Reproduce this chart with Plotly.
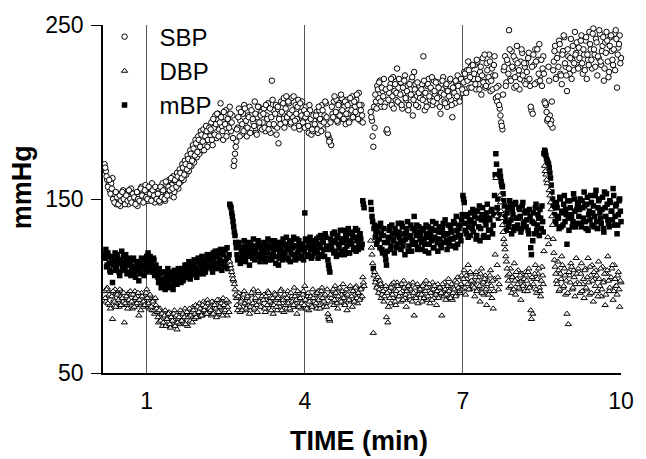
import plotly.graph_objects as go

# Beat readings, two interleaved sets: set A every 0.025 min from 0.2 min,
# set B every 0.025 min from 0.2125 min.
T_START_A = 0.2
T_START_B = 0.2125
T_STEP = 0.025

SBP_A = [
    170, 166, 161, 158, 155, 159, 162, 152, 149, 147, 153, 150, 146, 151, 155, 148, 150, 153, 147, 151,
    156, 149, 148, 153, 150, 146, 152, 155, 157, 149, 153, 158, 154, 149, 151, 156, 159, 151, 148, 154,
    150, 156, 148, 154, 159, 151, 149, 158, 153, 161, 152, 158, 163, 154, 160, 165, 156, 167, 160, 170,
    161, 172, 164, 175, 166, 178, 169, 181, 171, 184, 174, 186, 176, 189, 178, 190, 181, 192, 180, 188,
    186, 194, 181, 191, 198, 185, 199, 190, 205, 192, 184, 197, 201, 188, 195, 203, 189, 198, 169, 176,
    183, 191, 202, 195, 187, 199, 204, 192, 186, 198, 203, 190, 199, 194, 206, 188, 197, 203, 191, 200,
    194, 202, 189, 198, 205, 193, 188, 218, 201, 192, 204, 191, 182, 199, 206, 196, 208, 194, 209, 198,
    205, 193, 208, 197, 191, 204, 196, 207, 190, 200, 206, 195, 191, 203, 194, 188, 201, 187, 189, 195,
    192, 200, 188, 201, 195, 204, 190, 198, 205, 193, 186, 184, 181, 199, 206, 196, 207, 194, 205, 200,
    208, 196, 203, 193, 207, 199, 195, 205, 209, 197, 203, 207, 199, 211, 195, 204, 194, None, None, None,
    None, None, 200, 195, 180, 191, 206, 215, 208, 218, 203, 212, 219, 205, 189, 188, 211, 216, 204, 220,
    212, 207, 225, 214, 205, 217, 202, 211, 221, 207, 215, 204, 213, 218, 198, 223, 216, 209, 203, 215,
    209, 216, 232, 201, 206, 215, 219, 207, 213, 204, 218, 210, 205, 217, 209, 199, 213, 220, 206, 215,
    203, 212, 218, 207, 197, 214, 205, 217, 221, 208, 215, 219, 211, 223, 213, 224, 229, 214, 226, 219,
    219, 227, 213, 229, 216, 223, 210, 231, 220, 214, 228, 217, 233, 212, 225, 221, 232, 208, 206, 215,
    202, 194, 190, 224, 232, 217, 228, 247, 219, 235, 225, 214, 230, 238, 221, 213, 229, 234, 218, 226,
    228, 218, 234, 215, 201, 199, 227, 236, 217, 230, 239, 221, 215, 232, 206, 204, 195, 226, 198, 195,
    191, 229, 238, 220, 233, 241, 222, 216, 235, 243, 226, 212, 232, 222, 242, 230, 224, 246, 234, 227,
    237, 226, 244, 222, 233, 241, 219, 230, 246, 236, 225, 248, 233, 242, 221, 231, 245, 227, 238, 218,
    240, 246, 229, 223, 243, 235, 227, 245, 247, 214, 237, 244, 231,
]

SBP_B = [
    168, 163, 157, 161, 153, 156, 150, 148, 154, 151, 147, 152, 149, 154, 150, 147, 152, 149, 155, 150,
    148, 153, 151, 147, 154, 150, 149, 156, 152, 148, 155, 151, 150, 157, 153, 149, 155, 152, 157, 150,
    153, 149, 157, 151, 155, 150, 160, 152, 157, 155, 162, 156, 151, 161, 157, 163, 159, 165, 162, 168,
    164, 170, 167, 173, 169, 176, 172, 179, 175, 182, 177, 184, 180, 187, 183, 178, 186, 189, 184, 191,
    190, 184, 196, 187, 193, 199, 186, 194, 197, 189, 200, 193, 186, 196, 191, 199, 194, 185, 172, 180,
    190, 197, 186, 200, 193, 189, 202, 195, 191, 197, 188, 201, 196, 192, 199, 187, 203, 194, 198, 190,
    199, 191, 204, 196, 190, 202, 197, 207, 193, 199, 187, 203, 196, 193, 200, 205, 191, 202, 197, 206,
    199, 194, 201, 209, 195, 199, 203, 192, 205, 198, 194, 201, 197, 199, 192, 204, 196, 190, 198, 193,
    198, 190, 203, 196, 189, 201, 194, 206, 197, 187, 183, 194, 203, 197, 209, 200, 195, 204, 198, 210,
    201, 196, 206, 199, 204, 194, 208, 201, 197, 206, 200, 210, 196, 204, 201, 198, None, None, None, None,
    None, None, 197, 186, 203, 210, 202, 213, 217, 206, 214, 209, 203, 213, 190, 207, 214, 219, 209, 202,
    216, 211, 206, 219, 210, 204, 214, 218, 208, 212, 201, 216, 210, 220, 207, 213, 204, 217, 211, 208,
    213, 207, 218, 211, 203, 216, 209, 214, 220, 206, 212, 217, 208, 214, 203, 211, 218, 210, 205, 216,
    212, 209, 219, 204, 214, 211, 218, 209, 215, 206, 219, 213, 217, 222, 211, 218, 224, 220, 214, 227,
    222, 216, 230, 219, 213, 226, 221, 217, 233, 215, 224, 220, 229, 218, 213, 227, 221, 214, 209, 204,
    198, 192, 210, 226, 215, 230, 222, 236, 218, 226, 232, 220, 215, 228, 224, 219, 236, 221, 228, 216,
    223, 231, 219, 203, 226, 233, 216, 229, 236, 222, 218, 230, 225, 222, 205, 200, 196, 218, 193, 206,
    224, 235, 219, 231, 226, 239, 221, 233, 244, 228, 221, 236, 225, 231, 219, 238, 228, 233, 240, 225,
    231, 241, 228, 236, 224, 243, 233, 227, 239, 230, 245, 236, 226, 240, 232, 247, 229, 235, 243, 225,
    234, 241, 220, 238, 244, 230, 236, 224, 242, 233, 239, 228,
]

DBP_A = [
    97, 91, 99, 94, 89, 96, 81, 92, 98, 90, 96, 88, 94, 97, 91, 79, 93, 89, 96, 90,
    95, 87, 92, 97, 89, 94, 83, 90, 96, 88, 92, 95, 98, 89, 87, 94, 86, 92, 84, 89,
    85, 79, 87, 81, 77, 84, 86, 78, 82, 85, 76, 83, 79, 86, 82, 75, 81, 78, 85, 81,
    79, 87, 83, 77, 86, 80, 85, 88, 81, 89, 84, 82, 90, 85, 83, 91, 86, 84, 92, 85,
    88, 83, 91, 85, 90, 82, 89, 92, 84, 87, 93, 85, 90, 83, 91, 114, 110, 106, 103, 98,
    93, 86, 96, 85, 92, 88, 97, 86, 93, 89, 84, 95, 88, 98, 86, 92, 85, 96, 89, 93,
    88, 95, 85, 92, 97, 87, 93, 90, 84, 96, 92, 86, 94, 88, 98, 90, 85, 93, 87, 97,
    92, 86, 94, 88, 99, 90, 84, 93, 96, 87, 91, 97, 100, 88, 94, 86, 93, 89, 98, 91,
    93, 87, 97, 89, 95, 99, 88, 94, 90, 98, 82, 80, 93, 97, 89, 100, 94, 87, 98, 92,
    95, 101, 90, 96, 86, 94, 99, 91, 88, 97, 95, 100, 90, 96, 93, 99, 105, 100, None, None,
    None, None, 126, 118, 73, 108, 104, 100, 96, 103, 93, 100, 91, 98, 82, 79, 97, 90, 101, 93,
    98, 89, 102, 94, 100, 91, 97, 103, 93, 88, 98, 101, 92, 97, 102, 83, 94, 100, 90, 97,
    98, 91, 101, 94, 103, 92, 99, 90, 96, 102, 93, 98, 89, 101, 95, 99, 83, 97, 102, 92,
    98, 104, 94, 100, 92, 99, 103, 95, 105, 98, 96, 106, 100, 109, 95, 104, 112, 98, 107, 101,
    102, 94, 108, 98, 105, 91, 110, 99, 95, 106, 89, 103, 97, 109, 93, 87, 104, 162, 112, 98,
    152, 143, 135, 127, 121, 114, 106, 99, 110, 96, 105, 113, 95, 104, 109, 98, 92, 107, 101, 97,
    106, 97, 110, 100, 81, 84, 104, 112, 96, 107, 99, 94, 111, 101, 169, 164, 159, 124, 152, 144,
    135, 119, 111, 103, 114, 97, 107, 117, 99, 110, 95, 84, 78, 106, 113, 98, 109, 94, 116, 102,
    108, 96, 113, 101, 93, 110, 98, 116, 95, 106, 112, 91, 104, 109, 97, 114, 100, 94, 111, 103,
    89, 107, 117, 97, 104, 110, 92, 112, 100, 95, 108, 88, 102,
]

DBP_B = [
    93, 98, 90, 95, 87, 94, 97, 91, 88, 95, 92, 98, 89, 93, 96, 90, 94, 87, 92, 97,
    91, 95, 88, 93, 90, 96, 92, 86, 94, 91, 89, 96, 93, 90, 95, 88, 91, 86, 93, 87,
    82, 86, 80, 84, 79, 83, 77, 81, 84, 78, 82, 80, 84, 77, 83, 79, 82, 86, 80, 84,
    82, 78, 85, 82, 87, 83, 79, 86, 84, 82, 88, 85, 87, 83, 89, 86, 88, 84, 90, 87,
    86, 91, 84, 89, 87, 92, 85, 88, 90, 83, 89, 86, 92, 88, 85, 112, 108, 104, 101, 95,
    89, 94, 88, 91, 86, 95, 90, 87, 94, 91, 88, 96, 90, 87, 93, 89, 97, 91, 88, 94,
    92, 87, 94, 89, 96, 91, 86, 93, 89, 95, 88, 93, 90, 97, 86, 92, 95, 89, 93, 90,
    87, 96, 91, 89, 94, 92, 97, 88, 93, 90, 95, 89, 92, 87, 96, 91, 94, 88, 93, 95,
    90, 96, 92, 87, 97, 93, 91, 95, 88, 84, 81, 95, 91, 98, 92, 96, 90, 94, 99, 91,
    97, 93, 89, 98, 95, 92, 100, 94, 97, 91, 99, 93, 96, 92, 98, 94, 102, None, None, None,
    None, None, 122, 113, 106, 102, 99, 105, 98, 101, 95, 97, 94, 100, 96, 88, 93, 99, 95, 102,
    91, 97, 100, 94, 96, 101, 92, 99, 95, 97, 100, 94, 98, 91, 96, 99, 93, 101, 95, 98,
    95, 100, 93, 97, 99, 94, 101, 96, 92, 98, 100, 95, 97, 93, 99, 96, 101, 94, 98, 95,
    100, 97, 93, 101, 96, 98, 94, 102, 99, 97, 101, 98, 104, 99, 106, 101, 98, 108, 103, 100,
    99, 105, 97, 103, 100, 107, 96, 102, 104, 98, 101, 95, 106, 100, 103, 97, 118, 140, 105, 101,
    148, 139, 131, 124, 117, 110, 103, 107, 100, 105, 98, 103, 108, 101, 99, 106, 103, 100, 104, 108,
    103, 108, 99, 86, 105, 101, 107, 98, 104, 110, 97, 103, 106, 120, 166, 161, 128, 155, 148, 140,
    127, 115, 107, 101, 109, 98, 104, 112, 100, 106, 103, 96, 108, 102, 111, 99, 105, 101, 107, 110,
    101, 107, 97, 104, 109, 99, 105, 102, 111, 96, 103, 108, 100, 106, 94, 104, 110, 98, 102, 107,
    95, 109, 103, 99, 105, 112, 97, 104, 100, 106, 98, 103,
]

MBP_A = [
    118, 121, 112, 117, 109, 116, 102, 113, 119, 110, 116, 108, 114, 120, 109, 113, 118, 107, 112, 115,
    106, 110, 116, 107, 113, 109, 103, 108, 116, 111, 106, 113, 117, 119, 109, 114, 108, 116, 106, 112,
    109, 102, 107, 99, 108, 101, 98, 106, 110, 100, 107, 103, 98, 109, 104, 101, 110, 105, 102, 110,
    104, 112, 106, 109, 114, 104, 111, 107, 115, 110, 105, 116, 109, 113, 117, 107, 114, 110, 118, 111,
    112, 118, 108, 116, 120, 110, 117, 113, 121, 109, 118, 114, 111, 122, 115, 147, 145, 140, 134, 129,
    122, 115, 125, 113, 121, 117, 126, 114, 122, 118, 112, 124, 117, 127, 115, 122, 118, 125, 114, 121,
    118, 125, 114, 122, 127, 116, 123, 115, 120, 126, 113, 122, 112, 118, 125, 115, 123, 119, 128, 116,
    122, 114, 126, 118, 123, 115, 127, 120, 116, 124, 122, 115, 142, 126, 117, 123, 128, 116, 124, 119,
    120, 127, 116, 124, 129, 118, 125, 117, 128, 121, 112, 108, 124, 130, 119, 126, 117, 129, 122, 132,
    120, 127, 118, 130, 123, 133, 119, 126, 131, 121, 128, 120, 132, 124, 130, 122, 149, 145, None, None,
    None, None, 148, 140, 110, 135, 131, 126, 134, 122, 130, 119, 133, 118, 112, 125, 132, 121, 135, 127,
    119, 131, 124, 136, 128, 121, 134, 126, 118, 131, 137, 123, 129, 120, 133, 140, 125, 135, 122, 131,
    129, 121, 133, 124, 135, 128, 119, 131, 126, 137, 122, 132, 127, 120, 134, 124, 131, 136, 125, 130,
    121, 135, 127, 132, 123, 137, 128, 140, 124, 133, 129, 138, 152, 148, 132, 140, 128, 137, 142, 133,
    131, 140, 127, 143, 134, 126, 138, 145, 129, 137, 142, 128, 139, 132, 144, 135, 152, 176, 145, 139,
    166, 160, 157, 149, 140, 132, 145, 136, 147, 130, 141, 134, 148, 133, 139, 144, 131, 146, 136, 142,
    134, 143, 130, 140, 118, 126, 136, 145, 132, 141, 129, 139, 146, 131, 178, 175, 172, 170, 165, 158,
    150, 145, 137, 148, 140, 133, 150, 142, 135, 152, 144, 124, 139, 149, 141, 134, 153, 143, 136, 147,
    140, 150, 134, 145, 154, 137, 147, 132, 143, 152, 135, 146, 140, 155, 133, 149, 142, 136, 151, 131,
    145, 153, 138, 134, 148, 143, 156, 135, 146, 130, 141, 150, 137,
]

MBP_B = [
    116, 111, 119, 113, 108, 117, 112, 115, 109, 118, 113, 106, 115, 111, 117, 110, 114, 108, 116, 112,
    109, 115, 111, 105, 114, 110, 113, 107, 112, 115, 110, 108, 114, 111, 117, 112, 109, 115, 110, 107,
    105, 110, 103, 108, 104, 100, 107, 102, 105, 99, 104, 108, 101, 106, 102, 107, 103, 108, 106, 103,
    109, 105, 112, 107, 110, 106, 113, 108, 111, 109, 114, 107, 112, 116, 110, 113, 108, 115, 112, 117,
    115, 110, 119, 113, 117, 111, 120, 115, 112, 119, 114, 121, 116, 110, 118, 146, 142, 137, 131, 125,
    118, 124, 116, 122, 119, 115, 123, 120, 117, 125, 119, 121, 116, 123, 120, 118, 126, 117, 123, 118,
    121, 116, 124, 119, 115, 122, 126, 118, 123, 117, 121, 125, 116, 122, 120, 127, 117, 124, 121, 115,
    125, 119, 122, 128, 117, 123, 119, 126, 121, 117, 124, 120, 127, 122, 118, 125, 121, 117, 126, 122,
    124, 119, 128, 122, 117, 126, 121, 130, 123, 115, 110, 127, 121, 125, 131, 120, 128, 124, 118, 127,
    125, 132, 121, 129, 126, 119, 130, 124, 128, 122, 133, 126, 121, 129, 127, 124, 147, None, None, None,
    None, None, 144, 137, 133, 128, 124, 131, 127, 136, 121, 129, 125, 115, 120, 128, 134, 123, 130, 126,
    133, 122, 129, 131, 125, 136, 123, 130, 127, 133, 120, 128, 135, 126, 124, 132, 129, 121, 134, 127,
    125, 132, 127, 120, 130, 134, 124, 129, 133, 122, 128, 136, 125, 131, 127, 122, 133, 129, 138, 126,
    130, 124, 134, 131, 127, 136, 122, 132, 129, 135, 126, 141, 150, 136, 130, 141, 134, 129, 138, 144,
    136, 143, 129, 139, 146, 133, 141, 128, 140, 135, 147, 132, 138, 143, 130, 141, 164, 170, 150, 142,
    163, 158, 153, 146, 137, 142, 134, 149, 138, 144, 132, 147, 139, 135, 145, 140, 133, 148, 137, 143,
    138, 132, 144, 122, 137, 142, 130, 147, 135, 139, 144, 133, 137, 176, 177, 173, 171, 168, 162, 154,
    147, 141, 136, 145, 139, 151, 134, 143, 147, 137, 141, 149, 132, 145, 140, 137, 150, 134, 144, 148,
    144, 136, 149, 139, 146, 133, 151, 141, 138, 148, 142, 134, 152, 137, 145, 150, 139, 144, 133, 154,
    140, 147, 136, 149, 143, 138, 152, 140, 147, 135, 149, 143,
]

TIME_A = [round(T_START_A + T_STEP * i, 4) for i in range(len(SBP_A))]
TIME_B = [round(T_START_B + T_STEP * i, 4) for i in range(len(SBP_B))]

X_TICKS = [1, 4, 7, 10]
Y_TICKS = [50, 150, 250]

FONT = "Arial, 'Liberation Sans', sans-serif"

fig = go.Figure()

fig.add_trace(go.Scatter(
    x=TIME_A + TIME_B, y=MBP_A + MBP_B, mode="markers", name="mBP", legendrank=3, cliponaxis=False,
    marker=dict(symbol="square", size=5.5, color="black", line=dict(width=0)),
))
fig.add_trace(go.Scatter(
    x=TIME_A + TIME_B, y=SBP_A + SBP_B, mode="markers", name="SBP", legendrank=1, cliponaxis=False,
    marker=dict(symbol="circle", size=5.5, color="white", line=dict(width=1, color="black")),
))
fig.add_trace(go.Scatter(
    x=TIME_A + TIME_B, y=DBP_A + DBP_B, mode="markers", name="DBP", legendrank=2, cliponaxis=False,
    marker=dict(symbol="triangle-up", size=5.5, color="white", line=dict(width=1, color="black")),
))

fig.update_layout(
    width=646, height=459,
    margin=dict(l=103, r=14, t=20, b=86),
    paper_bgcolor="white", plot_bgcolor="white",
    font=dict(family=FONT, color="black", size=23),
    showlegend=True,
    legend=dict(
        x=-0.026, y=1.03, xanchor="left", yanchor="top",
        bgcolor="rgba(0,0,0,0)", font=dict(size=24, family=FONT),
        itemwidth=60, tracegroupgap=0,
    ),
    xaxis=dict(
        range=[0.17, 10], tickvals=X_TICKS, ticktext=[str(v) for v in X_TICKS],
        showgrid=True, gridcolor="#555555", gridwidth=1,
        showline=True, linecolor="black", linewidth=1.5,
        ticks="outside", ticklen=7, tickcolor="rgba(0,0,0,0)",
        zeroline=False, tickfont=dict(size=23, family=FONT),
    ),
    yaxis=dict(
        range=[50, 250], tickvals=Y_TICKS, ticktext=[str(v) for v in Y_TICKS],
        showgrid=False, showline=True, linecolor="black", linewidth=1.5,
        ticks="outside", ticklen=10, tickwidth=1.2, tickcolor="black",
        ticklabelstandoff=3,
        zeroline=False, tickfont=dict(size=23, family=FONT),
    ),
    annotations=[
        dict(text="<b>TIME (min)</b>", xref="paper", yref="paper", x=0.494, y=0,
             xanchor="center", yanchor="middle", yshift=-68, showarrow=False,
             font=dict(size=27, family=FONT)),
        dict(text="<b>mmHg</b>", xref="paper", yref="paper", x=-0.157, y=0.5326,
             xanchor="center", yanchor="middle", textangle=-90, showarrow=False,
             font=dict(size=27, family=FONT)),
    ],
)

fig.write_html(
    "out.html",
    config={"displayModeBar": False},
    post_script="document.body.style.margin='0px';document.body.style.padding='0px';document.body.style.overflow='hidden';",
)
